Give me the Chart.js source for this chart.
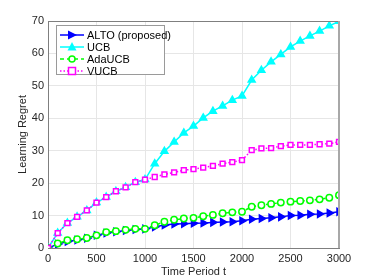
<!DOCTYPE html>
<html>
<head>
<meta charset="utf-8">
<script src="https://cdn.jsdelivr.net/npm/chart.js@4.4.1/dist/chart.umd.min.js"></script>
<style>
  html, body { margin: 0; padding: 0; background: #fff; }
  #wrap { position: relative; width: 374px; height: 279px; }
  #legend {
    position: absolute; left: 56px; top: 25px; width: 109px; height: 50px;
    background: #fff; border: 1px solid #9a9a9a; box-sizing: border-box;
    font-family: 'Liberation Sans', Arial, Helvetica, sans-serif; font-size: 11px; color: #000;
  }
  .row { position: absolute; left: 2px; height: 12px; line-height: 12px; white-space: nowrap; }
  .row svg { position: absolute; left: 0; top: 0; }
  .row span { position: absolute; left: 28px; top: 0; }
</style>
</head>
<body>
<div id="wrap">
  <canvas id="c" width="374" height="279"></canvas>
  <div id="legend"></div>
</div>
<script>
// ---- data ----
const timePoints = [0,100,200,300,400,500,600,700,800,900,1000,1100,1200,1300,1400,1500,1600,1700,1800,1900,2000,2100,2200,2300,2400,2500,2600,2700,2800,2900,3000];
const altoValues = [0,1.2,2.0,2.5,3.0,3.9,4.6,5.0,5.4,5.7,5.9,6.5,7.1,7.4,7.5,7.6,7.7,7.9,8.0,8.1,8.4,8.9,9.1,9.3,9.6,10.0,10.1,10.4,10.5,10.8,11.2];
const ucbValues = [0,4.6,7.7,9.6,11.6,14.0,15.7,17.5,18.7,20.3,21.1,26.0,29.8,32.7,35.5,37.6,40.1,42.2,43.8,45.6,46.9,51.8,54.8,57.4,59.7,62.0,63.8,65.4,66.9,68.5,69.9];
const adaValues = [0,1.4,2.4,2.7,3.1,3.9,4.9,5.2,5.6,5.9,5.9,7.0,8.1,8.7,9.1,9.3,9.8,10.2,10.7,11.0,11.2,12.7,13.2,13.6,14.0,14.3,14.5,14.7,15.0,15.5,16.3];
const vucbValues = [0,4.6,7.7,9.6,11.6,14.0,15.7,17.5,18.7,20.3,21.1,21.9,22.7,23.3,24.0,24.3,24.8,25.3,26.0,26.5,27.1,30.2,30.7,30.8,31.4,31.8,31.8,31.8,32.0,32.2,32.7];
const seriesNames = ['ALTO (proposed)', 'UCB', 'AdaUCB', 'VUCB'];
const xTickValues = [0,500,1000,1500,2000,2500,3000];
const yTickValues = [0,10,20,30,40,50,60,70];

const toXY = vals => vals.map((v, i) => ({ x: timePoints[i], y: v }));
const FONT = "'Liberation Sans', Arial, Helvetica, sans-serif";
const CHART = { left: 48, right: 339, top: 21, bottom: 248 };

const styles = [
  { color: '#0000ff', pointStyle: 'triangle', rotation: 90, radius: 4, fill: '#0000ff', dash: [], order: 4 },
  { color: '#00ffff', pointStyle: 'triangle', rotation: 0, radius: 4, fill: '#00ffff', dash: [], order: 3 },
  { color: '#00ff00', pointStyle: 'circle', rotation: 0, radius: 3.2, fill: '#ffffff', dash: [4, 3], order: 2 },
  { color: '#ff00ff', pointStyle: 'rect', rotation: 0, radius: 3.4, fill: '#ffffff', dash: [1.5, 2], order: 1 }
];
const allValues = [altoValues, ucbValues, adaValues, vucbValues];

const datasets = allValues.map((vals, i) => ({
  label: seriesNames[i],
  data: toXY(vals),
  borderColor: styles[i].color,
  backgroundColor: styles[i].fill,
  borderWidth: 1.5,
  borderDash: styles[i].dash,
  pointStyle: styles[i].pointStyle,
  rotation: styles[i].rotation,
  pointRadius: styles[i].radius,
  pointBorderWidth: 1.5,
  pointBorderColor: styles[i].color,
  pointBackgroundColor: styles[i].fill,
  tension: 0,
  order: styles[i].order
}));

const boxPlugin = {
  id: 'box',
  afterDatasetsDraw(chart) {
    const { ctx, chartArea: a } = chart;
    ctx.save();
    ctx.strokeStyle = '#7f7f7f';
    ctx.lineWidth = 1;
    ctx.beginPath();
    ctx.moveTo(a.left, a.top + 0.5);
    ctx.lineTo(a.right, a.top + 0.5);
    ctx.stroke();
    ctx.strokeStyle = '#a8a8a8';
    ctx.lineWidth = 2;
    ctx.beginPath();
    ctx.moveTo(a.right, a.top);
    ctx.lineTo(a.right, a.bottom);
    ctx.stroke();
    ctx.restore();
  }
};

new Chart(document.getElementById('c'), {
  type: 'line',
  data: { datasets },
  plugins: [boxPlugin],
  options: {
    responsive: false,
    animation: false,
    devicePixelRatio: 1,
    layout: { padding: { left: 0, right: 374 - CHART.right, top: CHART.top, bottom: 0 } },
    plugins: { legend: { display: false }, tooltip: { enabled: false } },
    scales: {
      x: {
        type: 'linear', min: 0, max: 3000,
        afterBuildTicks: s => { s.ticks = xTickValues.map(v => ({ value: v })); },
        afterFit: s => { s.height = 279 - CHART.bottom; },
        ticks: { font: { family: FONT, size: 11 }, color: '#262626', padding: 4, maxRotation: 0, callback: v => String(v) },
        grid: { color: '#e6e6e6', drawTicks: false },
        border: { color: '#7f7f7f', width: 1 },
        title: { display: true, text: 'Time Period t', font: { family: FONT, size: 11 }, color: '#262626', padding: { top: 0, bottom: 0 } }
      },
      y: {
        type: 'linear', min: 0, max: 70,
        afterBuildTicks: s => { s.ticks = yTickValues.map(v => ({ value: v })); },
        afterFit: s => { s.width = CHART.left; },
        ticks: { font: { family: FONT, size: 11 }, color: '#262626', padding: 4, callback: v => String(v) },
        grid: { color: '#e6e6e6', drawTicks: false },
        border: { color: '#7f7f7f', width: 1 },
        title: { display: true, text: 'Learning Regret', font: { family: FONT, size: 11 }, color: '#262626', padding: { top: 16, bottom: 0 } }
      }
    }
  }
});

// legend (HTML overlay)
const legend = document.getElementById('legend');
const rowTops = [3, 15, 27, 39];
seriesNames.forEach((name, i) => {
  const st = styles[i];
  const row = document.createElement('div');
  row.className = 'row';
  row.style.top = rowTops[i] + 'px';
  let marker = '';
  const cx = 13, cy = 6;
  if (i === 0) marker = `<polygon points="${cx-4},${cy-4.5} ${cx+5},${cy} ${cx-4},${cy+4.5}" fill="${st.color}"/>`;
  else if (i === 1) marker = `<polygon points="${cx},${cy-5} ${cx+4.5},${cy+3.5} ${cx-4.5},${cy+3.5}" fill="${st.color}"/>`;
  else if (i === 2) marker = `<circle cx="${cx}" cy="${cy}" r="3" fill="#fff" stroke="${st.color}" stroke-width="1.5"/>`;
  else marker = `<rect x="${cx-3.5}" y="${cy-3.5}" width="7" height="7" fill="#fff" stroke="${st.color}" stroke-width="1.5"/>`;
  const dash = st.dash.length ? `stroke-dasharray="${st.dash.join(',')}"` : '';
  row.innerHTML = `<svg width="28" height="12"><line x1="1" y1="${cy}" x2="25" y2="${cy}" stroke="${st.color}" stroke-width="1.5" ${dash}/>${marker}</svg><span>${name}</span>`;
  legend.appendChild(row);
});
</script>
</body>
</html>
